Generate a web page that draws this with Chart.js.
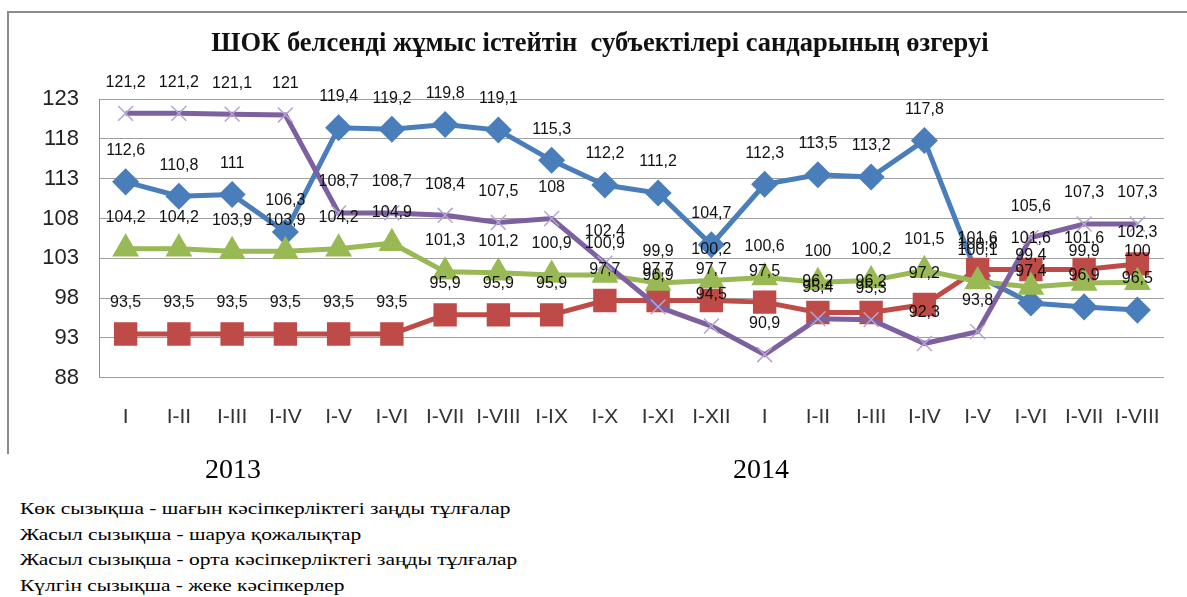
<!DOCTYPE html>
<html lang="kk">
<head>
    <meta charset="UTF-8">
    <title>ШОК белсенді жұмыс істейтін субъектілері</title>
    <script src="https://cdn.jsdelivr.net/npm/chart.js@4.4.1/dist/chart.umd.min.js"></script>
    <style>
        body {
            margin: 0;
            background: #fff;
            width: 1187px;
            height: 597px;
            position: relative;
            overflow: hidden;
        }
        .frame {
            position: absolute;
            left: 7px;
            top: 11px;
            width: 1180px;
            height: 441px;
            border-left: 2px solid #8c8c8c;
            border-top: 2px solid #8c8c8c;
        }
        .title {
            position: absolute;
            left: 0;
            width: 1200px;
            top: 27px;
            text-align: center;
            font-family: "Liberation Serif", serif;
            font-weight: bold;
            font-size: 26.5px;
            color: #111;
        }
        .chart-box {
            position: absolute;
            left: 9px;
            top: 13px;
            width: 1178px;
            height: 444px;
        }
        .year {
            position: absolute;
            top: 453px;
            font-family: "Liberation Serif", serif;
            font-size: 28px;
            color: #000;
        }
        .legend {
            position: absolute;
            left: 20px;
            top: 496px;
            font-family: "Liberation Serif", serif;
            font-size: 17px;
            line-height: 25.5px;
            color: #000;
            transform: scaleX(1.26);
            transform-origin: left top;
        }
    </style>
</head>
<body>
    <div class="frame"></div>
    <div class="chart-box">
        <canvas id="shokChart"></canvas>
    </div>
    <div class="title">ШОК белсенді жұмыс істейтін&nbsp; субъектілері сандарының өзгеруі</div>
    <div class="year" style="left:205px">2013</div>
    <div class="year" style="left:733px">2014</div>
    <div class="legend">
        Көк сызықша - шағын кәсіпкерліктегі заңды тұлғалар<br>
        Жасыл сызықша - шаруа қожалықтар<br>
        Жасыл сызықша - орта кәсіпкерліктегі заңды тұлғалар<br>
        Күлгін сызықша - жеке кәсіпкерлер
    </div>

    <script>
        const months = ['I', 'I-II', 'I-III', 'I-IV', 'I-V', 'I-VI', 'I-VII', 'I-VIII', 'I-IX', 'I-X', 'I-XI', 'I-XII',
                        'I', 'I-II', 'I-III', 'I-IV', 'I-V', 'I-VI', 'I-VII', 'I-VIII'];

        // шағын кәсіпкерліктегі заңды тұлғалар (көк)
        const smallLegal = [112.6, 110.8, 111, 106.3, 119.4, 119.2, 119.8, 119.1, 115.3, 112.2, 111.2, 104.7,
                            112.3, 113.5, 113.2, 117.8, 100.8, 97.4, 96.9, 96.5];
        // қызыл
        const redSeries = [93.5, 93.5, 93.5, 93.5, 93.5, 93.5, 95.9, 95.9, 95.9, 97.7, 97.7, 97.7,
                           97.5, 96.2, 96.2, 97.2, 101.6, 101.6, 101.6, 102.3];
        // жасыл
        const greenSeries = [104.2, 104.2, 103.9, 103.9, 104.2, 104.9, 101.3, 101.2, 100.9, 100.9, 99.9, 100.2,
                             100.6, 100, 100.2, 101.5, 100.1, 99.4, 99.9, 100];
        // жеке кәсіпкерлер (күлгін)
        const individual = [121.2, 121.2, 121.1, 121, 108.7, 108.7, 108.4, 107.5, 108, 102.4, 96.9, 94.5,
                            90.9, 95.4, 95.3, 92.3, 93.8, 105.6, 107.3, 107.3];

        const yTicks = [88, 93, 98, 103, 108, 113, 118, 123];

        // мәндерді маркерлердің үстіне жазу
        const valueLabels = {
            id: 'valueLabels',
            afterDatasetsDraw(chart) {
                const ctx = chart.ctx;
                ctx.save();
                ctx.font = '16px "Liberation Sans", Arial, sans-serif';
                ctx.fillStyle = '#111';
                ctx.textAlign = 'center';
                ctx.textBaseline = 'middle';
                chart.data.datasets.forEach((ds, i) => {
                    chart.getDatasetMeta(i).data.forEach((pt, j) => {
                        const txt = String(ds.data[j]).replace('.', ',');
                        ctx.fillText(txt, pt.x, pt.y - 31);
                    });
                });
                ctx.restore();
            }
        };

        const ctx = document.getElementById('shokChart').getContext('2d');
        new Chart(ctx, {
            type: 'line',
            data: {
                labels: months,
                datasets: [
                    {
                        data: smallLegal,
                        order: 4,
                        borderColor: '#4a7ebb',
                        backgroundColor: '#4a7ebb',
                        borderWidth: 5,
                        pointStyle: 'rectRot',
                        pointRadius: 10,
                        tension: 0
                    },
                    {
                        data: redSeries,
                        order: 3,
                        borderColor: '#be4b48',
                        backgroundColor: '#be4b48',
                        borderWidth: 5,
                        pointStyle: 'rect',
                        pointRadius: 13,
                        tension: 0
                    },
                    {
                        data: greenSeries,
                        order: 2,
                        borderColor: '#98b954',
                        backgroundColor: '#98b954',
                        borderWidth: 5,
                        pointStyle: 'triangle',
                        pointRadius: 10.5,
                        tension: 0
                    },
                    {
                        data: individual,
                        order: 1,
                        borderColor: '#7d60a0',
                        backgroundColor: '#7d60a0',
                        borderWidth: 5,
                        pointStyle: 'crossRot',
                        pointRadius: 10.5,
                        pointBorderColor: '#b5a3d3',
                        pointBorderWidth: 1.5,
                        tension: 0
                    }
                ]
            },
            options: {
                responsive: true,
                maintainAspectRatio: false,
                animation: false,
                layout: {
                    padding: { top: 86, right: 17, bottom: 0, left: 0 }
                },
                plugins: {
                    legend: { display: false },
                    tooltip: { enabled: false }
                },
                scales: {
                    x: {
                        offset: true,
                        grid: { display: false, drawTicks: false },
                        border: { display: false },
                        ticks: {
                            padding: 27,
                            color: '#333',
                            font: { family: '"Liberation Sans", Arial, sans-serif', size: 21 },
                            maxRotation: 0,
                            autoSkip: false
                        }
                    },
                    y: {
                        min: 88,
                        max: 123,
                        afterFit(scale) { scale.width = 90; },
                        afterBuildTicks(scale) { scale.ticks = yTicks.map(v => ({ value: v })); },
                        grid: { color: '#a0a0a0', lineWidth: 1, drawTicks: false },
                        border: { display: true, color: '#8c8c8c', width: 1 },
                        ticks: {
                            padding: 20,
                            color: '#222',
                            font: { family: '"Liberation Sans", Arial, sans-serif', size: 22 }
                        }
                    }
                }
            },
            plugins: [valueLabels]
        });
    </script>
</body>
</html>
